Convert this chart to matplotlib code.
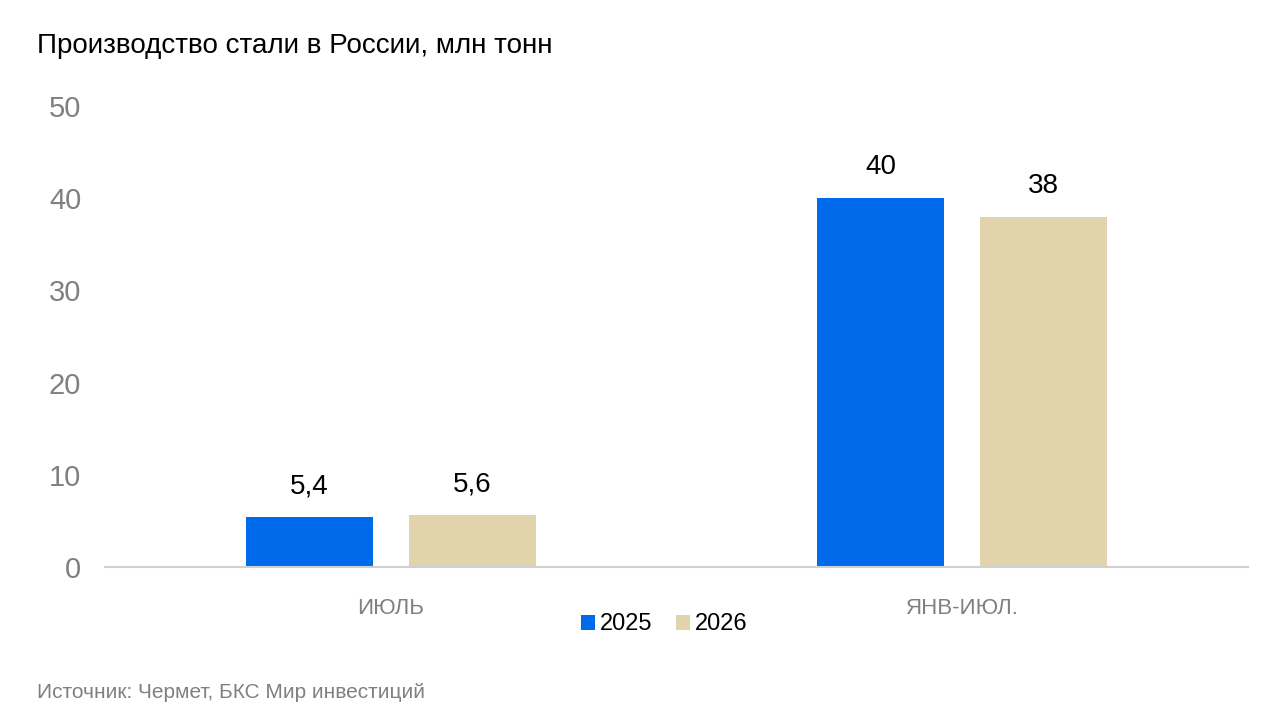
import numpy as np
import matplotlib.pyplot as plt

plt.rcParams['font.family'] = ['Liberation Sans', 'DejaVu Sans']

categories = ['ИЮЛЬ', 'ЯНВ-ИЮЛ.']
years = ['2025', '2026']
values_2025 = [5.4, 40]
values_2026 = [5.6, 38]
labels_2025 = ['5,4', '40']
labels_2026 = ['5,6', '38']
colors = ['#006BEA', '#E1D3AB']

fig = plt.figure(figsize=(12.8, 7.21), dpi=100)
ax = fig.add_axes([0.082, 0.2136, 0.893, 0.6394])

x = np.arange(len(categories)) + 0.5
w = 0.222
off = 0.1425
b1 = ax.bar(x - off, values_2025, w, color=colors[0], label=years[0])
b2 = ax.bar(x + off, values_2026, w, color=colors[1], label=years[1])

# value labels above the bars
for bars, labs in [(b1, labels_2025), (b2, labels_2026)]:
    for bar, lab in zip(bars, labs):
        ax.annotate(lab, (bar.get_x() + bar.get_width() / 2, bar.get_height()),
                    xytext=(0, 13), textcoords='offset points',
                    ha='center', va='bottom', fontsize=20, color='black')

ax.set_xlim(0, 2)
ax.set_ylim(0, 50)
ax.set_yticks([0, 10, 20, 30, 40, 50])
ax.set_xticks(x)
ax.set_xticklabels(categories)
ax.tick_params(axis='y', length=0, pad=17, labelsize=21, labelcolor='#808080')
ax.tick_params(axis='x', length=0, pad=22, labelsize=16, labelcolor='#808080')
for s in ['top', 'right', 'left']:
    ax.spines[s].set_visible(False)
ax.spines['bottom'].set_color('#D0D0D0')
ax.spines['bottom'].set_linewidth(1.5)

fig.legend(loc='center', bbox_to_anchor=(0.519, 0.134), ncol=2, frameon=False,
           fontsize=17, handlelength=0.6, handleheight=0.6, handletextpad=0.2,
           columnspacing=1.0)

fig.text(0.029, 0.936, 'Производство стали в России, млн тонн', fontsize=20,
         color='black', ha='left', va='center')
fig.text(0.029, 0.04, 'Источник: Чермет, БКС Мир инвестиций', fontsize=15,
         color='#808080', ha='left', va='center')

fig.savefig('out.png', dpi=100, facecolor='white')
